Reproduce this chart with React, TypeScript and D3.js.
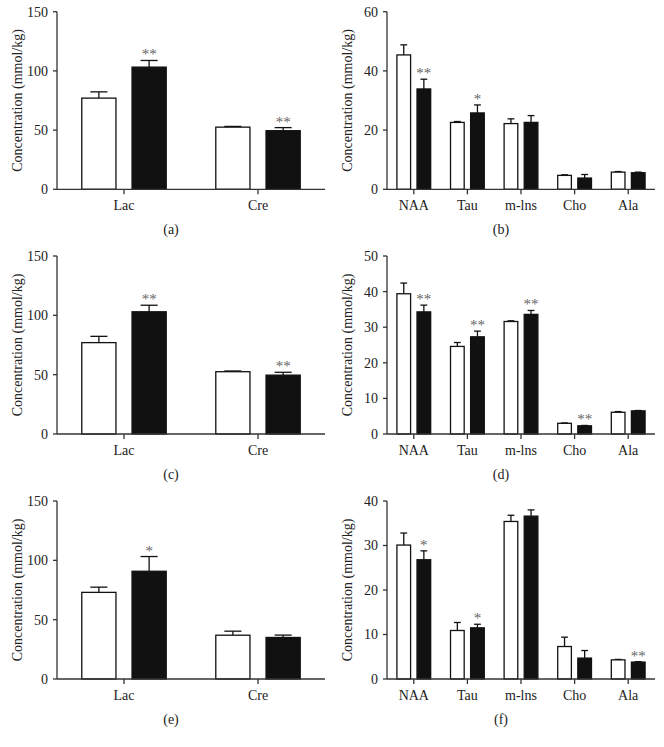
import React from "react";
import * as d3 from "d3";

const categoriesLeft = ["Lac", "Cre"];
const categoriesRight = ["NAA", "Tau", "m-lns", "Cho", "Ala"];

const controlA = [77, 52.5];
const controlErrA = [5.3, 0.6];
const modelA = [103.2, 49.5];
const modelErrA = [5.6, 2.6];
const starsA = ["**", "**"];

const controlB = [45.4, 22.6, 22.2, 4.7, 5.8];
const controlErrB = [3.4, 0.3, 1.6, 0.2, 0.2];
const modelB = [33.9, 25.8, 22.6, 3.8, 5.6];
const modelErrB = [3.3, 2.7, 2.3, 1.2, 0.2];
const starsB = ["**", "*", "", "", ""];

const controlC = [77, 52.5];
const controlErrC = [5.3, 0.6];
const modelC = [103, 49.6];
const modelErrC = [5.5, 2.4];
const starsC = ["**", "**"];

const controlD = [39.4, 24.6, 31.6, 3.0, 6.1];
const controlErrD = [3.0, 1.1, 0.2, 0.1, 0.2];
const modelD = [34.3, 27.3, 33.6, 2.3, 6.5];
const modelErrD = [1.9, 1.6, 1.1, 0.1, 0.1];
const starsD = ["**", "**", "**", "**", ""];

const controlE = [73, 36.9];
const controlErrE = [4.4, 3.4];
const modelE = [90.8, 35.0];
const modelErrE = [12.4, 2.0];
const starsE = ["*", ""];

const controlF = [30.1, 10.9, 35.4, 7.3, 4.3];
const controlErrF = [2.7, 1.8, 1.4, 2.1, 0.1];
const modelF = [26.8, 11.5, 36.6, 4.7, 3.8];
const modelErrF = [2.0, 0.8, 1.4, 1.7, 0.1];
const starsF = ["*", "*", "", "", "**"];

const yTicksLeft = [0, 50, 100, 150];
const yTicksB = [0, 20, 40, 60];
const yTicksD = [0, 10, 20, 30, 40, 50];
const yTicksF = [0, 10, 20, 30, 40];

const panelLabels = ["(a)", "(b)", "(c)", "(d)", "(e)", "(f)"];

const FONT = "'Liberation Serif', 'DejaVu Serif', serif";
const AX = "#333";

type PanelProps = {
  x0: number;
  x1: number;
  top: number;
  bottom: number;
  cats: string[];
  ctrl: number[];
  ctrlErr: number[];
  mod: number[];
  modErr: number[];
  stars: string[];
  ticks: number[];
  label: string;
};

function Panel(p: PanelProps) {
  const yMax = p.ticks[p.ticks.length - 1];
  const y = d3.scaleLinear().domain([0, yMax]).range([p.bottom, p.top]);
  const x = d3.scaleBand<string>().domain(p.cats).range([p.x0, p.x1]).padding(0);
  const bw = x.bandwidth();
  const barW = bw * 0.255;
  const gap = bw * 0.12;
  const capW = barW * 0.5;
  const labelLeft = p.x0 - 40;
  const bars: React.ReactNode[] = [];
  p.cats.forEach((c, i) => {
    const cx = (x(c) as number) + bw / 2;
    const series = [
      { v: p.ctrl[i], e: p.ctrlErr[i], fill: "#fff", left: cx - gap / 2 - barW, star: "" },
      { v: p.mod[i], e: p.modErr[i], fill: "#111", left: cx + gap / 2, star: p.stars[i] },
    ];
    series.forEach((s, j) => {
      const mid = s.left + barW / 2;
      const yTop = y(s.v);
      const yErr = y(s.v + s.e);
      bars.push(
        <g key={c + j}>
          <line x1={mid} x2={mid} y1={yTop} y2={yErr} stroke="#111" strokeWidth={1.3} />
          <line x1={mid - capW / 2} x2={mid + capW / 2} y1={yErr} y2={yErr} stroke="#111" strokeWidth={1.3} />
          <rect x={s.left} y={yTop} width={barW} height={p.bottom - yTop} fill={s.fill} stroke="#111" strokeWidth={1.3} />
          {s.star ? (
            <text x={mid} y={yErr - 1} textAnchor="middle" fontSize={15} fill="#666" fontFamily={FONT}>
              {s.star}
            </text>
          ) : null}
        </g>
      );
    });
  });
  return (
    <g>
      {bars}
      <line x1={p.x0} x2={p.x0} y1={p.top} y2={p.bottom} stroke={AX} strokeWidth={1.3} />
      <line x1={p.x0} x2={p.x1} y1={p.bottom} y2={p.bottom} stroke={AX} strokeWidth={1.3} />
      {p.ticks.map((t) => (
        <g key={t}>
          <line x1={p.x0 - 4} x2={p.x0} y1={y(t)} y2={y(t)} stroke={AX} strokeWidth={1.3} />
          <text x={p.x0 - 9} y={y(t)} dy="0.35em" textAnchor="end" fontSize={14} fill="#222" fontFamily={FONT}>
            {t}
          </text>
        </g>
      ))}
      {p.cats.map((c) => {
        const cx = (x(c) as number) + bw / 2;
        return (
          <g key={c}>
            <line x1={cx} x2={cx} y1={p.bottom} y2={p.bottom + 5} stroke={AX} strokeWidth={1.3} />
            <text x={cx} y={p.bottom + 21} textAnchor="middle" fontSize={14} fill="#222" fontFamily={FONT}>
              {c}
            </text>
          </g>
        );
      })}
      <text
        transform={`translate(${p.x0 - 40},${(p.top + p.bottom) / 2}) rotate(-90)`}
        textAnchor="middle"
        dy="0.35em"
        fontSize={14}
        fill="#222"
        fontFamily={FONT}
      >
        Concentration (mmol/kg)
      </text>
      <text x={(labelLeft + p.x1) / 2} y={p.bottom + 45} textAnchor="middle" fontSize={14} fill="#222" fontFamily={FONT}>
        {p.label}
      </text>
    </g>
  );
}

export default function App() {
  const rows = [
    { top: 11.7, bottom: 189.3 },
    { top: 256, bottom: 434 },
    { top: 501, bottom: 679 },
  ];
  const L = { x0: 57, x1: 325 };
  const R = { x0: 387, x1: 655 };
  return (
    <svg width={664} height={747} style={{ position: "absolute", left: 0, top: 0, background: "#fff" }}>
      <Panel {...L} {...rows[0]} cats={categoriesLeft} ctrl={controlA} ctrlErr={controlErrA} mod={modelA} modErr={modelErrA} stars={starsA} ticks={yTicksLeft} label={panelLabels[0]} />
      <Panel {...R} {...rows[0]} cats={categoriesRight} ctrl={controlB} ctrlErr={controlErrB} mod={modelB} modErr={modelErrB} stars={starsB} ticks={yTicksB} label={panelLabels[1]} />
      <Panel {...L} {...rows[1]} cats={categoriesLeft} ctrl={controlC} ctrlErr={controlErrC} mod={modelC} modErr={modelErrC} stars={starsC} ticks={yTicksLeft} label={panelLabels[2]} />
      <Panel {...R} {...rows[1]} cats={categoriesRight} ctrl={controlD} ctrlErr={controlErrD} mod={modelD} modErr={modelErrD} stars={starsD} ticks={yTicksD} label={panelLabels[3]} />
      <Panel {...L} {...rows[2]} cats={categoriesLeft} ctrl={controlE} ctrlErr={controlErrE} mod={modelE} modErr={modelErrE} stars={starsE} ticks={yTicksLeft} label={panelLabels[4]} />
      <Panel {...R} {...rows[2]} cats={categoriesRight} ctrl={controlF} ctrlErr={controlErrF} mod={modelF} modErr={modelErrF} stars={starsF} ticks={yTicksF} label={panelLabels[5]} />
    </svg>
  );
}
